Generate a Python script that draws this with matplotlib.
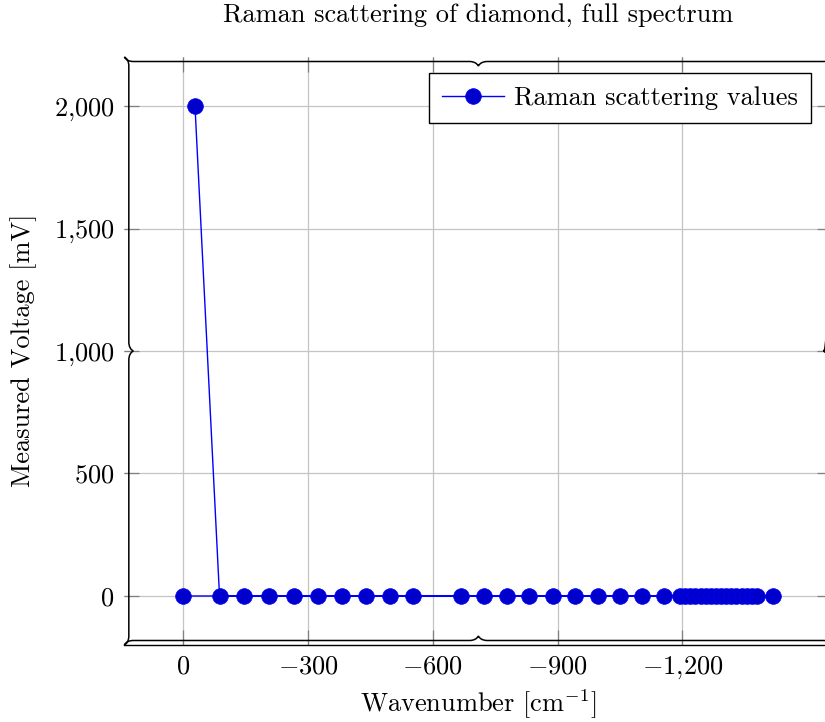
import numpy as np
import matplotlib as mpl
mpl.use("Agg")
import matplotlib.pyplot as plt
from matplotlib.path import Path
from matplotlib.patches import PathPatch

# Raman scan of diamond: wavenumber shift and measured detector voltage
wavenumber = [-28, -87, -147, -206, -265, -324, -381, -439, -496, -553,
              -667, -722, -778, -832, -888, -942, -997, -1050, -1103, -1156,
              -1194, -1206, -1219, -1231, -1244, -1256, -1268, -1281,
              -1293, -1306, -1318, -1330, -1343, -1355, -1368, -1380,
              -1419, 0]
voltage = [2000, 0, 0, 0, 0, 0, 0, 0, 0, 0,
           0, 0, 0, 0, 0, 0, 0, 0, 0, 0,
           0, 0, 0, 0, 0, 0, 0, 0,
           0, 0, 0, 0, 0, 0, 0, 0,
           0, 0]

xticks = [0, -300, -600, -900, -1200]
xticklabels = ['$0$', '$-300$', '$-600$', '$-900$', '$-1{,}200$']
yticks = [0, 500, 1000, 1500, 2000]
yticklabels = ['$0$', '$500$', '$1{,}000$', '$1{,}500$', '$2{,}000$']

plt.rcParams['font.family'] = ['cmr10', 'DejaVu Serif']
plt.rcParams['mathtext.fontset'] = 'cm'
plt.rcParams['axes.unicode_minus'] = False
plt.rcParams['axes.formatter.use_mathtext'] = True

FS = 19
W, H = 825, 722
fig = plt.figure(figsize=(W / 100, H / 100), dpi=100)
ax = fig.add_axes([0.1507, 0.10665, 0.8583, 0.8144])

ax.plot(wavenumber, voltage, color=(0, 0, 1), lw=1.0, marker='o', ms=11.3,
        mfc=(0, 0, 0.8), mec=(0, 0, 1), mew=0.5, label='Raman scattering values',
        zorder=3)

# pgfplots-style enlarged limits, x axis runs towards negative shift
lo, hi = min(wavenumber), max(wavenumber)
ax.set_xlim(hi + 0.1 * (hi - lo), lo - 0.1 * (hi - lo))
ax.set_ylim(-200, 2200)

ax.set_xticks(xticks)
ax.set_xticklabels(xticklabels, fontsize=FS)
ax.set_yticks(yticks)
ax.set_yticklabels(yticklabels, fontsize=FS)
ax.tick_params(direction='in', length=10.8, width=0.9, color='#808080',
               top=True, right=True, pad=7)
ax.grid(True, color='#c4c4c4', lw=0.9)
ax.set_axisbelow(True)

for s in ['top', 'left', 'right']:
    ax.spines[s].set_visible(False)
ax.spines['bottom'].set_linewidth(1.0)

ax.set_xlabel('Wavenumber [cm$^{-1}$]', fontsize=FS)
ax.xaxis.set_label_coords(0.5, -0.1003)
ax.xaxis.label.set_va('center')
ax.set_ylabel('Measured Voltage [mV]', fontsize=FS)
ax.yaxis.set_label_coords(-0.1416, 0.5017)
ax.yaxis.label.set_va('center')
ax.text(0.5, 1.0714, 'Raman scattering of diamond, full spectrum',
        transform=ax.transAxes, ha='center', va='center', fontsize=FS)

leg = ax.legend(loc='upper right', bbox_to_anchor=(0.9698, 0.973),
                borderaxespad=0, fontsize=FS, numpoints=1, fancybox=False,
                framealpha=1, edgecolor='black', handlelength=2.35,
                handletextpad=0.36, borderpad=0.5)
leg.get_frame().set_linewidth(1.0)

# curly braces along the four axis edges, drawn in pixel space
over = fig.add_axes([0, 0, 1, 1], zorder=5)
over.set_xlim(0, W)
over.set_ylim(H, 0)
over.axis('off')
over.patch.set_alpha(0)


def brace(p0, p1, normal, a=9.0):
    p0 = np.asarray(p0, float)
    p1 = np.asarray(p1, float)
    L = np.hypot(*(p1 - p0))
    d = (p1 - p0) / L
    n = np.asarray(normal, float)
    pts = [(0, 0),
           (.15 * a, .3 * a), (.5 * a, .5 * a), (a, .5 * a),
           (L / 2 - a, .5 * a),
           (L / 2 - .5 * a, .5 * a), (L / 2 - .15 * a, .7 * a), (L / 2, a),
           (L / 2 + .15 * a, .7 * a), (L / 2 + .5 * a, .5 * a), (L / 2 + a, .5 * a),
           (L - a, .5 * a),
           (L - .5 * a, .5 * a), (L - .15 * a, .3 * a), (L, 0)]
    codes = ([Path.MOVETO] + [Path.CURVE4] * 3 + [Path.LINETO]
             + [Path.CURVE4] * 6 + [Path.LINETO] + [Path.CURVE4] * 3)
    verts = [p0 + s * d + h * n for s, h in pts]
    over.add_patch(PathPatch(Path(verts, codes), fill=False, lw=1.1,
                             edgecolor='black', clip_on=False))


pos = ax.get_position()
x0, x1 = pos.x0 * W, pos.x1 * W
y0, y1 = (1 - pos.y1) * H, (1 - pos.y0) * H
brace((x0, y0), (x1, y0), (0, 1))
brace((x0, y1), (x1, y1), (0, -1))
brace((x0, y0), (x0, y1), (1, 0))
brace((x1, y0), (x1, y1), (-1, 0))

fig.savefig('out.png', dpi=100)
